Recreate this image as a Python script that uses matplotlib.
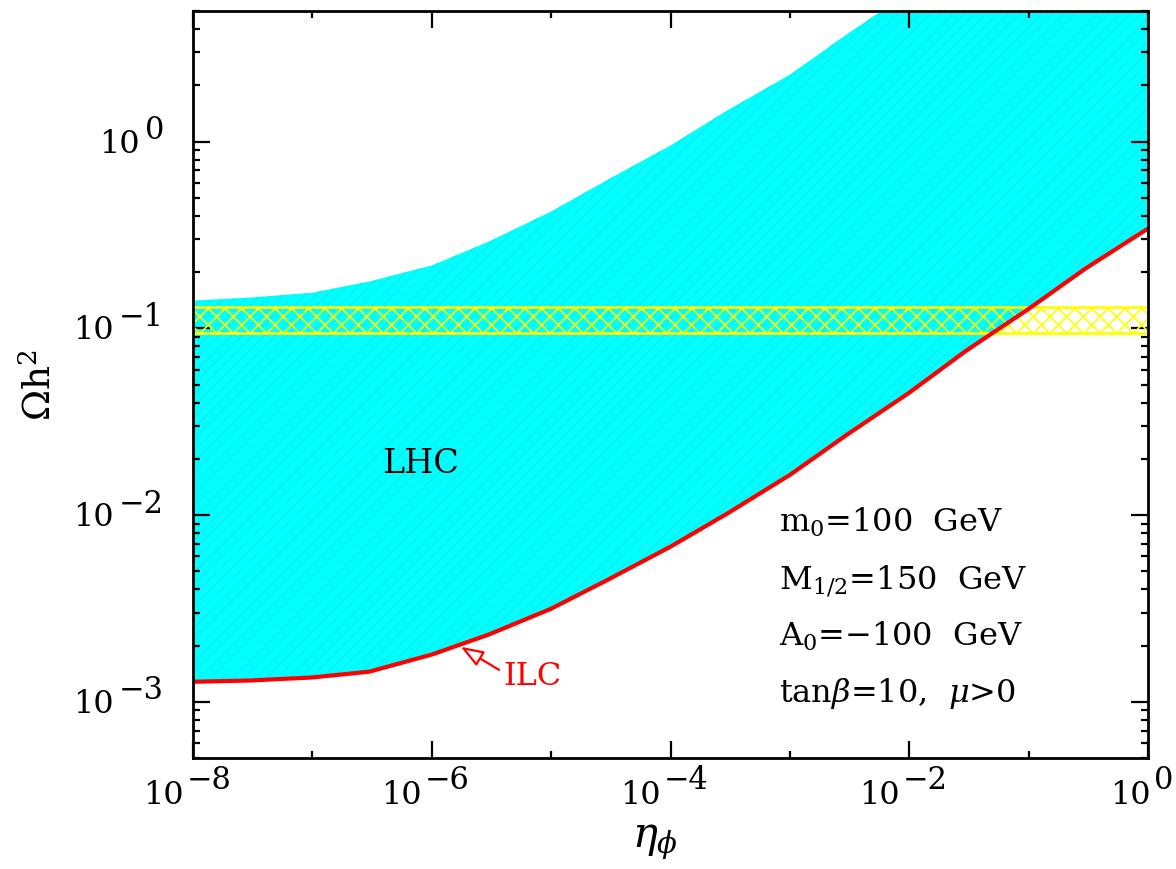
import numpy as np
import matplotlib
matplotlib.use('Agg')
import matplotlib.pyplot as plt
from matplotlib.ticker import FixedLocator, NullFormatter

# ---------------- data ----------------
eta_upper = [1e-8, 3e-8, 1e-7, 3e-7, 1e-6, 3e-6, 1e-5, 3e-5, 1e-4, 3e-4,
             1e-3, 3e-3, 1e-2, 3e-2, 1e-1, 3e-1, 1.0]
omega_upper = [0.1406, 0.146, 0.155, 0.178, 0.217, 0.291, 0.422, 0.626, 0.952,
               1.47, 2.28, 3.75, 6.3, 10.3, 16.8, 27.0, 44.0]

eta_lower = [1e-8, 3e-8, 1e-7, 3e-7, 1e-6, 3e-6, 1e-5, 3e-5, 1e-4, 3e-4,
             1e-3, 3e-3, 1e-2, 3e-2, 1e-1, 3e-1, 1.0]
omega_lower = [1.28e-3, 1.30e-3, 1.35e-3, 1.45e-3, 1.79e-3, 2.29e-3, 3.15e-3,
               4.51e-3, 6.77e-3, 1.02e-2, 1.64e-2, 2.69e-2, 4.52e-2, 7.59e-2,
               0.127, 0.209, 0.342]

wmap_band = [0.0948, 0.1306]

x_major_exp = [-8, -6, -4, -2, 0]
x_minor_exp = [-7, -5, -3, -1]
y_major_exp = [-3, -2, -1, 0]

param_lines = [r'm$_0$=100  GeV', r'M$_{1/2}$=150  GeV',
               r'A$_0$=$-$100  GeV', r'tan$\beta$=10,  $\mu$>0']

# ---------------- style ----------------
plt.rcParams['font.family'] = ['DejaVu Serif']
plt.rcParams['mathtext.fontset'] = 'dejavuserif'

W, H, DPI = 1176, 870, 100
fig = plt.figure(figsize=(W / DPI, H / DPI), dpi=DPI)
ax = fig.add_axes([193 / W, 1 - 759 / H, (1148 - 193) / W, (759 - 12) / H])
ax.set_xscale('log')
ax.set_yscale('log')
ax.set_xlim(1e-8, 1.0)
ax.set_ylim(5e-4, 5.0)

# LHC region (cyan, faint diagonal stripes)
plt.rcParams['hatch.linewidth'] = 1.0
poly_x = list(eta_upper) + list(eta_lower[::-1])
poly_y = list(omega_upper) + list(omega_lower[::-1])
lhc = ax.fill(poly_x, poly_y, facecolor='#00FFFF', edgecolor='#0CEEF2',
              hatch='///', linewidth=0, zorder=1)[0]

# WMAP band (yellow cross-hatch, transparent)
plt.rcParams['hatch.linewidth'] = 1.2
band = ax.axhspan(wmap_band[0], wmap_band[1], facecolor='none',
                  edgecolor='#FFFF00', hatch='xx', linewidth=2.0, zorder=2)

# ILC curve
ax.plot(eta_lower, omega_lower, color='#FF0000', lw=3.0, zorder=3,
        solid_capstyle='butt', solid_joinstyle='round')

# ---------------- axes / ticks ----------------
for sp in ax.spines.values():
    sp.set_linewidth(2.0)
    sp.set_zorder(5)

ax.xaxis.set_major_locator(FixedLocator([10.0 ** e for e in x_major_exp]))
ax.xaxis.set_minor_locator(FixedLocator([10.0 ** e for e in x_minor_exp]))
ymin_ticks = [m * 10.0 ** e for e in range(-4, 1) for m in range(2, 10)]
ax.yaxis.set_major_locator(FixedLocator([10.0 ** e for e in y_major_exp]))
ax.yaxis.set_minor_locator(FixedLocator(ymin_ticks))
for a in (ax.xaxis, ax.yaxis):
    a.set_major_formatter(NullFormatter())
    a.set_minor_formatter(NullFormatter())
ax.tick_params(which='both', direction='in', top=True, right=True, width=1.6)
ax.tick_params(which='major', length=12.5)
ax.tick_params(which='minor', length=5)

# custom power-of-ten tick labels (large superscripts)
FS_B, FS_E = 23, 22
PT = 72.0 / DPI
xl = []
for e in x_major_exp:
    b = ax.annotate('10', xy=(10.0 ** e, 0), xycoords=('data', 'axes fraction'),
                    xytext=(0, 0), textcoords='offset points', ha='left', va='top',
                    fontsize=FS_B, annotation_clip=False)
    s = ax.annotate(str(e).replace('-', '\u2212'), xy=(10.0 ** e, 0),
                    xycoords=('data', 'axes fraction'), xytext=(0, 0),
                    textcoords='offset points', ha='left', va='top',
                    fontsize=FS_E, annotation_clip=False)
    xl.append((b, s))
yl = []
for e in y_major_exp:
    b = ax.annotate('10', xy=(0, 10.0 ** e), xycoords=('axes fraction', 'data'),
                    xytext=(0, 0), textcoords='offset points', ha='left', va='center',
                    fontsize=FS_B, annotation_clip=False)
    s = ax.annotate(str(e).replace('-', '\u2212'), xy=(0, 10.0 ** e),
                    xycoords=('axes fraction', 'data'), xytext=(0, 0),
                    textcoords='offset points', ha='left', va='center',
                    fontsize=FS_E, annotation_clip=False)
    yl.append((b, s))

fig.canvas.draw()
r = fig.canvas.get_renderer()
for b, s in xl:
    wb = b.get_window_extent(r).width
    ws = s.get_window_extent(r).width
    tot = wb + 3 + ws
    left = -6 - tot / 2
    b.set_position((left * PT, -21 * PT))
    s.set_position(((left + wb + 3) * PT, -6 * PT))
for b, s in yl:
    wb = b.get_window_extent(r).width
    ws = s.get_window_extent(r).width
    s.set_position(((-29 - ws) * PT, 12 * PT))
    b.set_position(((-29 - ws - 5 - wb) * PT, -1.5 * PT))

# ---------------- labels / annotations ----------------
ax.text(0.484, -0.119, r'$\eta_\phi$', transform=ax.transAxes, fontsize=30,
        ha='center', va='baseline')
ax.text(-0.160, 0.50, r'$\mathrm{\Omega h}^2$', transform=ax.transAxes,
        fontsize=27, rotation=90, ha='center', va='center')

ax.text(0.2377, 0.395, 'LHC', transform=ax.transAxes, fontsize=24,
        ha='center', va='center', zorder=6)

baselines = [0.304, 0.2276, 0.1513, 0.0763]
for txt, yb in zip(param_lines, baselines):
    ax.text(0.6136, yb, txt, transform=ax.transAxes, fontsize=23,
            ha='left', va='baseline', zorder=6)

ax.annotate('ILC', xy=(1.75e-6, 1.97e-3), xycoords='data',
            xytext=(0.3246, 0.1098), textcoords='axes fraction',
            fontsize=23, color='#FF0000', ha='left', va='center', zorder=6,
            arrowprops=dict(arrowstyle='-|>,head_length=0.6,head_width=0.22',
                            facecolor='white', edgecolor='#FF0000', lw=1.6,
                            shrinkA=1, shrinkB=0, relpos=(0, 0.62)))

fig.savefig('out.png', dpi=DPI)
